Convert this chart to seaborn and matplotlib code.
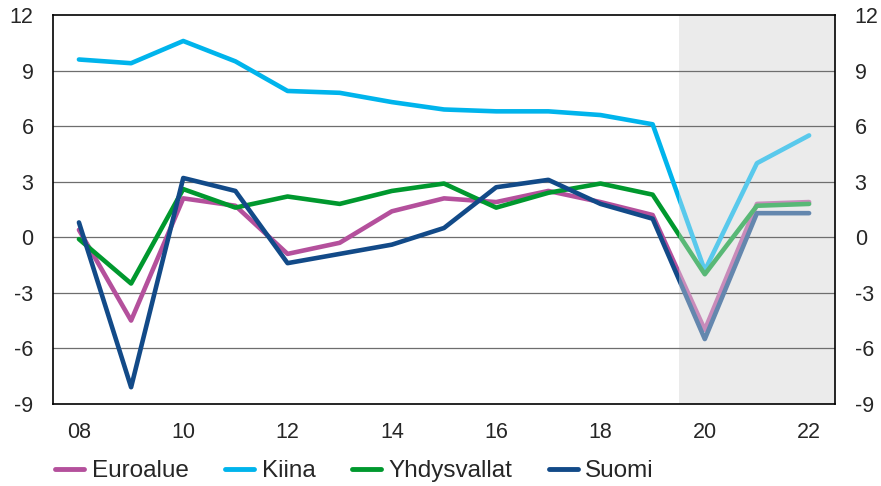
import numpy as np
import pandas as pd
import seaborn as sns
import matplotlib.pyplot as plt
import matplotlib.colors as mcolors
from matplotlib.patches import Rectangle

years = list(range(2008, 2023))
tick_labels = ["08", "", "10", "", "12", "", "14", "", "16", "", "18", "", "20", "", "22"]

euroalue = [0.4, -4.5, 2.1, 1.7, -0.9, -0.3, 1.4, 2.1, 1.9, 2.5, 1.9, 1.2, -5.0, 1.8, 1.9]
kiina = [9.6, 9.4, 10.6, 9.5, 7.9, 7.8, 7.3, 6.9, 6.8, 6.8, 6.6, 6.1, -1.8, 4.0, 5.5]
yhdysvallat = [-0.1, -2.5, 2.6, 1.6, 2.2, 1.8, 2.5, 2.9, 1.6, 2.4, 2.9, 2.3, -2.0, 1.7, 1.8]
suomi = [0.8, -8.1, 3.2, 2.5, -1.4, -0.9, -0.4, 0.5, 2.7, 3.1, 1.8, 1.0, -5.5, 1.3, 1.3]

series = ["Euroalue", "Kiina", "Yhdysvallat", "Suomi"]
colors = ["#B4509C", "#00B4EC", "#00982E", "#124A88"]
forecast_start = 2020

df = pd.DataFrame({
    "x": np.tile(np.arange(len(years)), 4),
    "value": euroalue + kiina + yhdysvallat + suomi,
    "series": np.repeat(series, len(years)),
})

sns.set_style("white")
plt.rcParams["font.family"] = ["Liberation Sans", "DejaVu Sans"]

fig = plt.figure(figsize=(8.81, 4.86), dpi=100)
ax = fig.add_axes([0.060, 0.169, 0.888, 0.800])

# forecast shading
fs = years.index(forecast_start) - 0.5
ax.axvspan(fs, len(years) - 0.5, color="#EBEBEB", zorder=0, lw=0)

# forecast part drawn in faded colours
bg = np.array(mcolors.to_rgb("#EBEBEB"))
faded = [tuple(0.62 * np.array(mcolors.to_rgb(c)) + 0.38 * bg) for c in colors]

n0 = len(ax.lines)
sns.lineplot(data=df, x="x", y="value", hue="series", palette=colors,
             hue_order=series, lw=3.3, ax=ax, legend=False, zorder=3)
hist_lines = ax.lines[n0:]
n1 = len(ax.lines)
sns.lineplot(data=df, x="x", y="value", hue="series", palette=faded,
             hue_order=series, lw=3.3, ax=ax, legend=False, zorder=3)
fc_lines = ax.lines[n1:]

clip_hist = Rectangle((-10, -100), fs + 10, 200, transform=ax.transData)
clip_fc = Rectangle((fs, -100), 100, 200, transform=ax.transData)
for ln in hist_lines:
    ln.set_clip_path(clip_hist)
for ln in fc_lines:
    ln.set_clip_path(clip_fc)

ax.set_xlim(-0.5, len(years) - 0.5)
ax.set_ylim(-9, 12)
ax.set_yticks(range(-9, 13, 3))
ax.set_yticklabels([str(v) for v in range(-9, 13, 3)])
for v in range(-6, 12, 3):
    ax.axhline(v, color="#6E6E6E", lw=0.9, zorder=1)

ax.set_xticks(np.arange(len(years)))
ax.set_xticklabels(tick_labels)
ax.set_xticks(np.arange(len(years) - 1) + 0.5, minor=True)
ax.tick_params(axis="x", which="major", length=0, labelsize=15.5, pad=13)
ax.tick_params(axis="x", which="minor", direction="in", length=6, width=1, color="black")
ax.tick_params(axis="y", length=0, labelsize=15.5, pad=14,
               labelright=True, right=False)
ax.set_xlabel("")
ax.set_ylabel("")
for sp in ax.spines.values():
    sp.set_visible(True)
    sp.set_color("black")
    sp.set_linewidth(1.2)

handles = [plt.Line2D([], [], color=c, lw=3.5) for c in colors]
fig.legend(handles, series, loc="center left", bbox_to_anchor=(0.049, 0.03),
           ncol=4, frameon=False, fontsize=17.5, handlelength=1.2,
           handletextpad=0.3, columnspacing=1.5, borderpad=0)

fig.savefig("out.png", dpi=100)
